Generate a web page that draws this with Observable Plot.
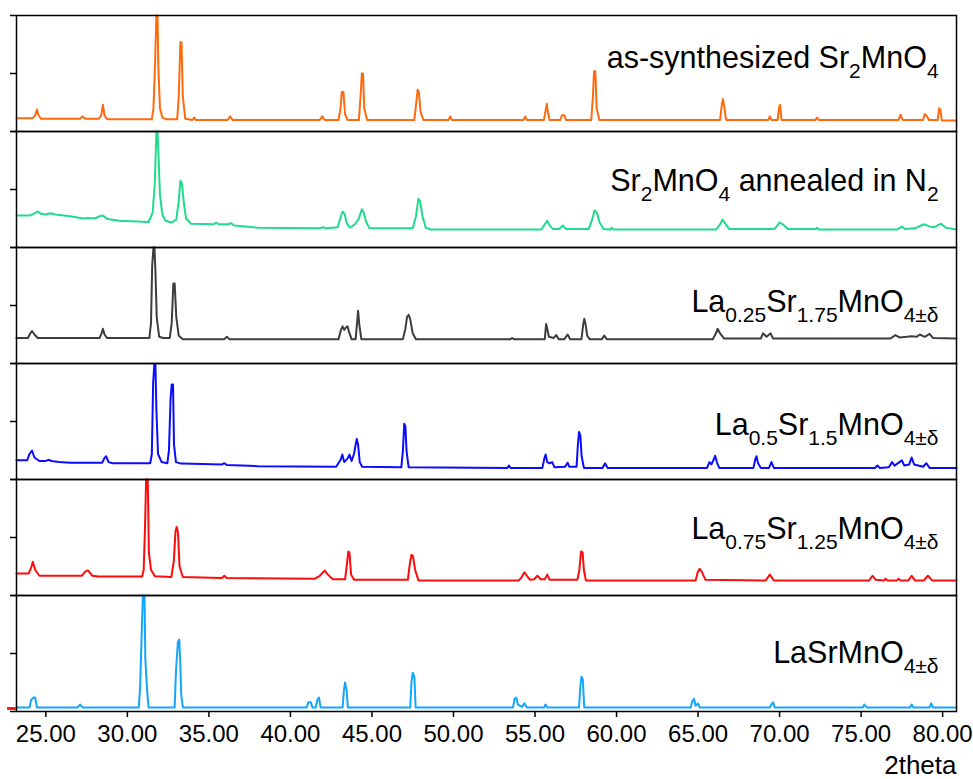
<!DOCTYPE html>
<html>
<head>
<meta charset="utf-8">
<script src="https://cdn.jsdelivr.net/npm/d3@7"></script>
<script src="https://cdn.jsdelivr.net/npm/@observablehq/plot@0.6"></script>
<style>
  html, body { margin: 0; padding: 0; background: white; }
</style>
</head>
<body>
<div id="chart"></div>
<script>
// ---- data (2theta, relative intensity in % of panel height) ----
const sampleIds = ["as", "n2", "la025", "la05", "la075", "la1"];
const sampleLabels = [
  "as-synthesized Sr_{2}MnO_{4}",
  "Sr_{2}MnO_{4} annealed in N_{2}",
  "La_{0.25}Sr_{1.75}MnO_{4±δ}",
  "La_{0.5}Sr_{1.5}MnO_{4±δ}",
  "La_{0.75}Sr_{1.25}MnO_{4±δ}",
  "LaSrMnO_{4±δ}"
];
const xTicks = [25, 30, 35, 40, 45, 50, 55, 60, 65, 70, 75, 80];
const xLabel = "2theta";

const asSynth = [[23.2,11.5],[24.2,11.5],[24.35,14],[24.45,19],[24.55,14],[24.7,11],[27.1,11],[27.25,13],[27.4,11],[28.25,11],[28.4,14],[28.5,23],[28.6,14],[28.75,10.5],[31.5,10.5],[31.6,20],[31.7,60],[31.78,100],[31.85,100],[31.9,55],[32.0,20],[32.15,12],[32.4,10.5],[33.05,10.5],[33.15,30],[33.25,77],[33.32,77],[33.4,30],[33.55,11],[34.0,10],[34.1,12],[34.2,10],[36.15,10],[36.3,13],[36.45,10],[41.8,10],[41.95,13],[42.1,10],[42.95,10],[43.07,20],[43.15,34],[43.25,34],[43.35,15],[43.5,10],[44.2,10],[44.3,30],[44.38,50],[44.45,50],[44.53,20],[44.7,10],[47.6,10],[47.72,25],[47.8,36],[47.88,34],[47.98,17],[48.15,10],[49.7,10],[49.8,13],[49.9,10],[54.3,10],[54.4,13],[54.5,10],[55.55,10],[55.65,18],[55.72,24],[55.8,16],[55.9,10],[56.55,10],[56.65,14],[56.8,14],[56.9,10],[58.45,10],[58.55,30],[58.62,52],[58.7,52],[58.78,20],[58.95,10],[66.35,10],[66.45,22],[66.52,28],[66.6,22],[66.72,10],[69.3,10],[69.4,13],[69.5,10],[69.88,10],[69.97,21],[70.03,23],[70.12,10],[72.2,10],[72.3,12],[72.4,10],[77.3,10],[77.42,14.5],[77.55,10],[78.8,10],[78.9,15],[79.05,13],[79.15,10],[79.7,10],[79.78,20],[79.86,19],[79.95,9.5],[80.85,9.5]];

const annealedN2 = [[23.2,27.5],[24.0,27.5],[24.3,29.5],[24.5,31],[24.7,29],[25.0,28.5],[25.3,29.5],[25.6,28.5],[26.5,27],[27.3,25],[27.6,25.5],[28.0,25],[28.3,27],[28.5,27.5],[28.8,24.5],[29.5,23],[31.3,22],[31.55,30],[31.68,55],[31.78,100],[31.85,100],[31.92,75],[32.0,45],[32.15,28],[32.35,23],[32.7,21.5],[33.0,24],[33.15,40],[33.25,57.5],[33.35,55],[33.45,40],[33.6,25],[33.9,20.5],[35.3,20],[35.45,21.5],[35.6,20],[36.2,20],[36.35,21],[36.55,19],[38.0,17],[41.8,16.5],[42.0,17.5],[42.2,16.5],[42.9,17.5],[43.05,25],[43.2,31],[43.32,29],[43.45,21],[43.65,17],[43.95,20],[44.2,25],[44.38,33],[44.5,30],[44.65,22],[44.85,16.5],[47.5,16.5],[47.7,27],[47.85,42],[47.95,40],[48.1,27],[48.3,17],[48.6,15.5],[55.4,15.5],[55.6,20],[55.75,23],[55.9,19],[56.1,16],[56.5,16],[56.7,19],[56.9,16],[58.3,16],[58.5,24],[58.65,32],[58.8,30],[58.95,22],[59.2,16],[59.6,15.5],[59.7,17],[59.8,15.5],[66.1,15.5],[66.35,20],[66.5,24],[66.65,21],[66.9,16],[69.7,16],[70.0,21.5],[70.2,20],[70.5,16],[72.2,16],[72.3,17],[72.4,15.5],[77.2,15.5],[77.5,18],[77.7,16],[78.3,16.5],[78.6,18.5],[78.9,20],[79.2,18],[79.5,17.5],[79.9,20.5],[80.2,17],[80.85,15.5]];

const la025 = [[23.2,22],[23.9,22],[24.05,26],[24.15,28],[24.3,25],[24.5,22],[28.3,22],[28.42,26],[28.5,30],[28.6,25],[28.75,22],[31.35,22],[31.45,35],[31.52,84],[31.6,100],[31.66,100],[31.72,80],[31.8,40],[31.95,23],[32.2,22],[32.6,22],[32.72,35],[32.82,69],[32.9,69],[33.0,40],[33.15,24],[33.4,21],[35.95,21],[36.1,23],[36.25,21],[42.95,21],[43.1,29],[43.2,32],[43.3,29],[43.4,31],[43.5,32],[43.6,27],[43.75,21],[44.0,21],[44.08,34],[44.15,45.5],[44.22,34],[44.35,21],[46.9,21],[47.05,30],[47.15,40],[47.25,42],[47.35,38],[47.5,26],[47.7,21],[53.5,21],[53.6,22],[53.7,21],[55.6,21],[55.68,34],[55.75,30],[55.85,23],[56.15,22],[56.3,24.5],[56.45,21],[56.8,21],[57.0,25],[57.15,21],[57.85,21],[57.95,33],[58.02,38.5],[58.1,34],[58.2,24],[58.35,21],[59.1,21],[59.25,24],[59.4,21],[65.9,21],[66.1,26],[66.2,30],[66.35,26],[66.6,21.5],[68.85,21.5],[68.98,26],[69.2,23],[69.45,26],[69.6,21.5],[76.8,21.5],[77.1,24.5],[77.35,22.5],[77.8,23],[78.1,23.5],[78.4,23],[78.6,25],[78.9,23],[79.2,25.5],[79.4,22],[80.85,21.5]];

const la05 = [[23.2,16.5],[23.85,16.5],[24.0,22],[24.15,25],[24.3,19],[24.6,16],[25.0,16],[25.15,17],[25.35,16],[25.8,15],[26.5,14.5],[28.45,14.5],[28.6,18.5],[28.7,20],[28.85,15],[29.1,14],[31.4,14],[31.5,22],[31.58,83],[31.65,99],[31.72,99],[31.78,60],[31.88,22],[32.1,15],[32.45,14],[32.55,25],[32.65,70],[32.72,82],[32.8,82],[32.86,30],[32.98,15],[33.3,13.7],[35.8,13],[35.95,14],[36.1,12.5],[38.0,11.5],[42.8,11],[43.08,17],[43.18,21.5],[43.3,15],[43.5,18],[43.62,21.5],[43.75,16],[43.9,22],[44.0,30],[44.07,35],[44.15,30],[44.25,15],[44.4,11],[46.8,10.5],[46.9,25],[46.98,48],[47.05,46],[47.12,25],[47.25,10.5],[53.3,10],[53.4,12],[53.5,10],[55.45,10],[55.57,18],[55.65,21.5],[55.75,15],[55.9,14],[56.05,15],[56.2,10.5],[56.85,11],[57.0,14.5],[57.1,11],[57.55,11],[57.63,30],[57.7,41],[57.78,38],[57.86,20],[58.0,10],[59.15,10],[59.3,14],[59.45,10],[65.55,10],[65.7,15],[65.82,13],[65.95,17],[66.05,20.5],[66.15,15],[66.3,10],[68.4,10],[68.5,17],[68.58,20],[68.68,14],[68.85,10],[69.35,10],[69.5,15],[69.65,10],[75.85,10],[76.0,12],[76.15,10],[76.7,10.5],[76.9,15],[77.05,12],[77.5,16.5],[77.65,12],[77.95,13],[78.1,19],[78.25,13],[78.8,11],[79.0,14],[79.2,10],[80.85,10]];

const la075 = [[23.2,19],[23.95,19],[24.1,24],[24.2,29],[24.35,22],[24.6,17],[27.2,17],[27.45,21],[27.6,21.5],[27.85,17],[28.2,16.3],[30.9,16.3],[31.0,22],[31.08,58],[31.15,100],[31.25,100],[31.32,37],[31.45,22],[31.7,16.5],[32.7,16],[32.85,30],[32.95,55],[33.02,59],[33.1,55],[33.2,25],[33.4,16],[35.8,15],[35.95,17],[36.1,15],[41.5,14.5],[41.8,17],[42.1,21.5],[42.3,18],[42.6,14],[43.35,14],[43.45,25],[43.55,38],[43.62,37],[43.72,18],[43.9,13.5],[47.2,13.5],[47.3,25],[47.42,35],[47.52,34],[47.65,22],[47.85,13],[54.0,13],[54.15,15],[54.35,20],[54.5,17],[54.7,13.5],[54.95,14],[55.15,17],[55.35,14],[55.6,14],[55.75,18],[55.9,13.5],[57.6,13.5],[57.72,22],[57.82,38],[57.92,37],[58.0,22],[58.12,13],[64.85,13],[64.98,20],[65.1,23],[65.25,20],[65.45,13.5],[69.15,13],[69.4,18],[69.65,13],[75.5,13],[75.7,17],[75.9,13.5],[76.4,13],[76.5,14.5],[76.6,13],[77.2,13],[77.3,14.5],[77.4,13],[77.9,13],[78.1,17],[78.3,13],[78.85,13],[79.1,17],[79.35,13],[80.85,13]];

const la1 = [[23.2,3.5],[24.0,3.5],[24.1,10],[24.25,12],[24.35,12],[24.45,3.5],[26.95,3.5],[27.1,6],[27.25,3.5],[30.7,3.5],[30.78,20],[30.88,68],[30.95,100],[31.05,100],[31.1,46],[31.2,20],[31.3,3.5],[32.9,3.5],[32.98,35],[33.1,60],[33.18,62],[33.24,44],[33.3,15],[33.4,3.5],[41.0,3.5],[41.1,8],[41.25,8],[41.35,3.5],[41.55,3.5],[41.65,10],[41.75,12],[41.85,3.5],[43.2,3.5],[43.28,18],[43.35,25],[43.45,18],[43.52,3.5],[47.35,3.5],[47.42,25],[47.5,33.5],[47.6,30],[47.68,3.5],[53.65,3.5],[53.75,11],[53.85,12],[53.95,6],[54.2,4],[54.35,7],[54.5,3.5],[55.55,3.5],[55.65,6],[55.75,3.5],[57.7,3.5],[57.78,22],[57.85,30],[57.93,28],[58.02,3.5],[64.55,3.5],[64.65,9],[64.75,11],[64.85,5],[65.0,7],[65.1,3.5],[69.4,3.5],[69.5,6],[69.6,8],[69.7,3.5],[75.1,3.5],[75.2,6],[75.35,3.5],[78.0,3.5],[78.1,6],[78.2,3.5],[79.2,3.5],[79.3,7],[79.4,3.5],[80.85,3.5]];

const allSeries = [asSynth, annealedN2, la025, la05, la075, la1];

// small red zero-level marker left of the bottom panel (2theta from, 2theta to, level)
const zeroMarker = [{sample: "la1", from: 22.65, to: 23.2, level: 2.6}];

// ---- styling / layout config (not data) ----
const colors = ["#ff6a0e", "#1fdc8c", "#3d3d3d", "#0b0bff", "#ff0b0b", "#12a6ff"];
const labelTheta = 79.75;
const labelLevel = [63.5, 56.7, 52.4, 46.4, 57.5, 50.6];
const labelFont = 30.5, subFont = 21, subShift = 10;

const rows = allSeries.flatMap((s, i) =>
  s.map(([theta, intensity]) => ({sample: sampleIds[i], theta, intensity})));
const labelRows = sampleIds.map((id, i) => ({sample: id, label: sampleLabels[i], theta: labelTheta, level: labelLevel[i]}));
const lastId = sampleIds[sampleIds.length - 1];

const chart = Plot.plot({
  width: 973,
  height: 779,
  marginTop: 13,
  marginBottom: 67,
  marginLeft: 16,
  marginRight: 17,
  style: {fontFamily: "'Liberation Sans', Arial, sans-serif", fontSize: "24px", color: "black", background: "white"},
  x: {domain: [23.2, 80.85]},
  y: {domain: [0, 100]},
  fy: {domain: sampleIds, paddingInner: 0, paddingOuter: 0, axis: null},
  color: {domain: sampleIds, range: colors},
  marks: [
    Plot.line(rows, {x: "theta", y: "intensity", fy: "sample", stroke: "sample", strokeWidth: 2}),
    Plot.frame({stroke: "black", strokeWidth: 1.5}),
    Plot.axisY({ticks: [0, 50, 100], tickSize: 6, tickFormat: () => "", label: null, strokeWidth: 1.5}),
    Plot.axisX({ticks: xTicks, tickFormat: d3.format(".2f"), tickSize: 6, tickPadding: 7, fontSize: 24, label: null, strokeWidth: 1.5}),
    Plot.ruleY(zeroMarker, {y: "level", x1: "from", x2: "to", fy: "sample", stroke: "#ff1a1a", strokeWidth: 3}),
    Plot.text(labelRows, {x: "theta", y: "level", fy: "sample", text: "label", textAnchor: "end", lineAnchor: "middle", fontSize: labelFont, fill: "black"}),
    Plot.text([lastId], {fy: d => d, text: () => xLabel, frameAnchor: "bottom-right", lineAnchor: "middle", textAnchor: "end", dy: 54, fontSize: 26, fill: "black"})
  ]
});

// render subscripts as real tspans
const ns = "http://www.w3.org/2000/svg";
chart.querySelectorAll("text").forEach(t => {
  const s = t.textContent;
  if (!s.includes("_{")) return;
  t.textContent = "";
  let lowered = false;
  const add = (str, isSub) => {
    const ts = document.createElementNS(ns, "tspan");
    ts.textContent = str;
    if (isSub) {
      ts.setAttribute("font-size", subFont);
      if (!lowered) { ts.setAttribute("dy", subShift); lowered = true; }
    } else if (lowered) {
      ts.setAttribute("dy", -subShift); lowered = false;
    }
    t.appendChild(ts);
  };
  const re = /_\{([^}]*)\}/g;
  let last = 0, m;
  while ((m = re.exec(s))) {
    if (m.index > last) add(s.slice(last, m.index), false);
    add(m[1], true);
    last = re.lastIndex;
  }
  if (last < s.length) add(s.slice(last), false);
});

document.getElementById("chart").appendChild(chart);
</script>
</body>
</html>
